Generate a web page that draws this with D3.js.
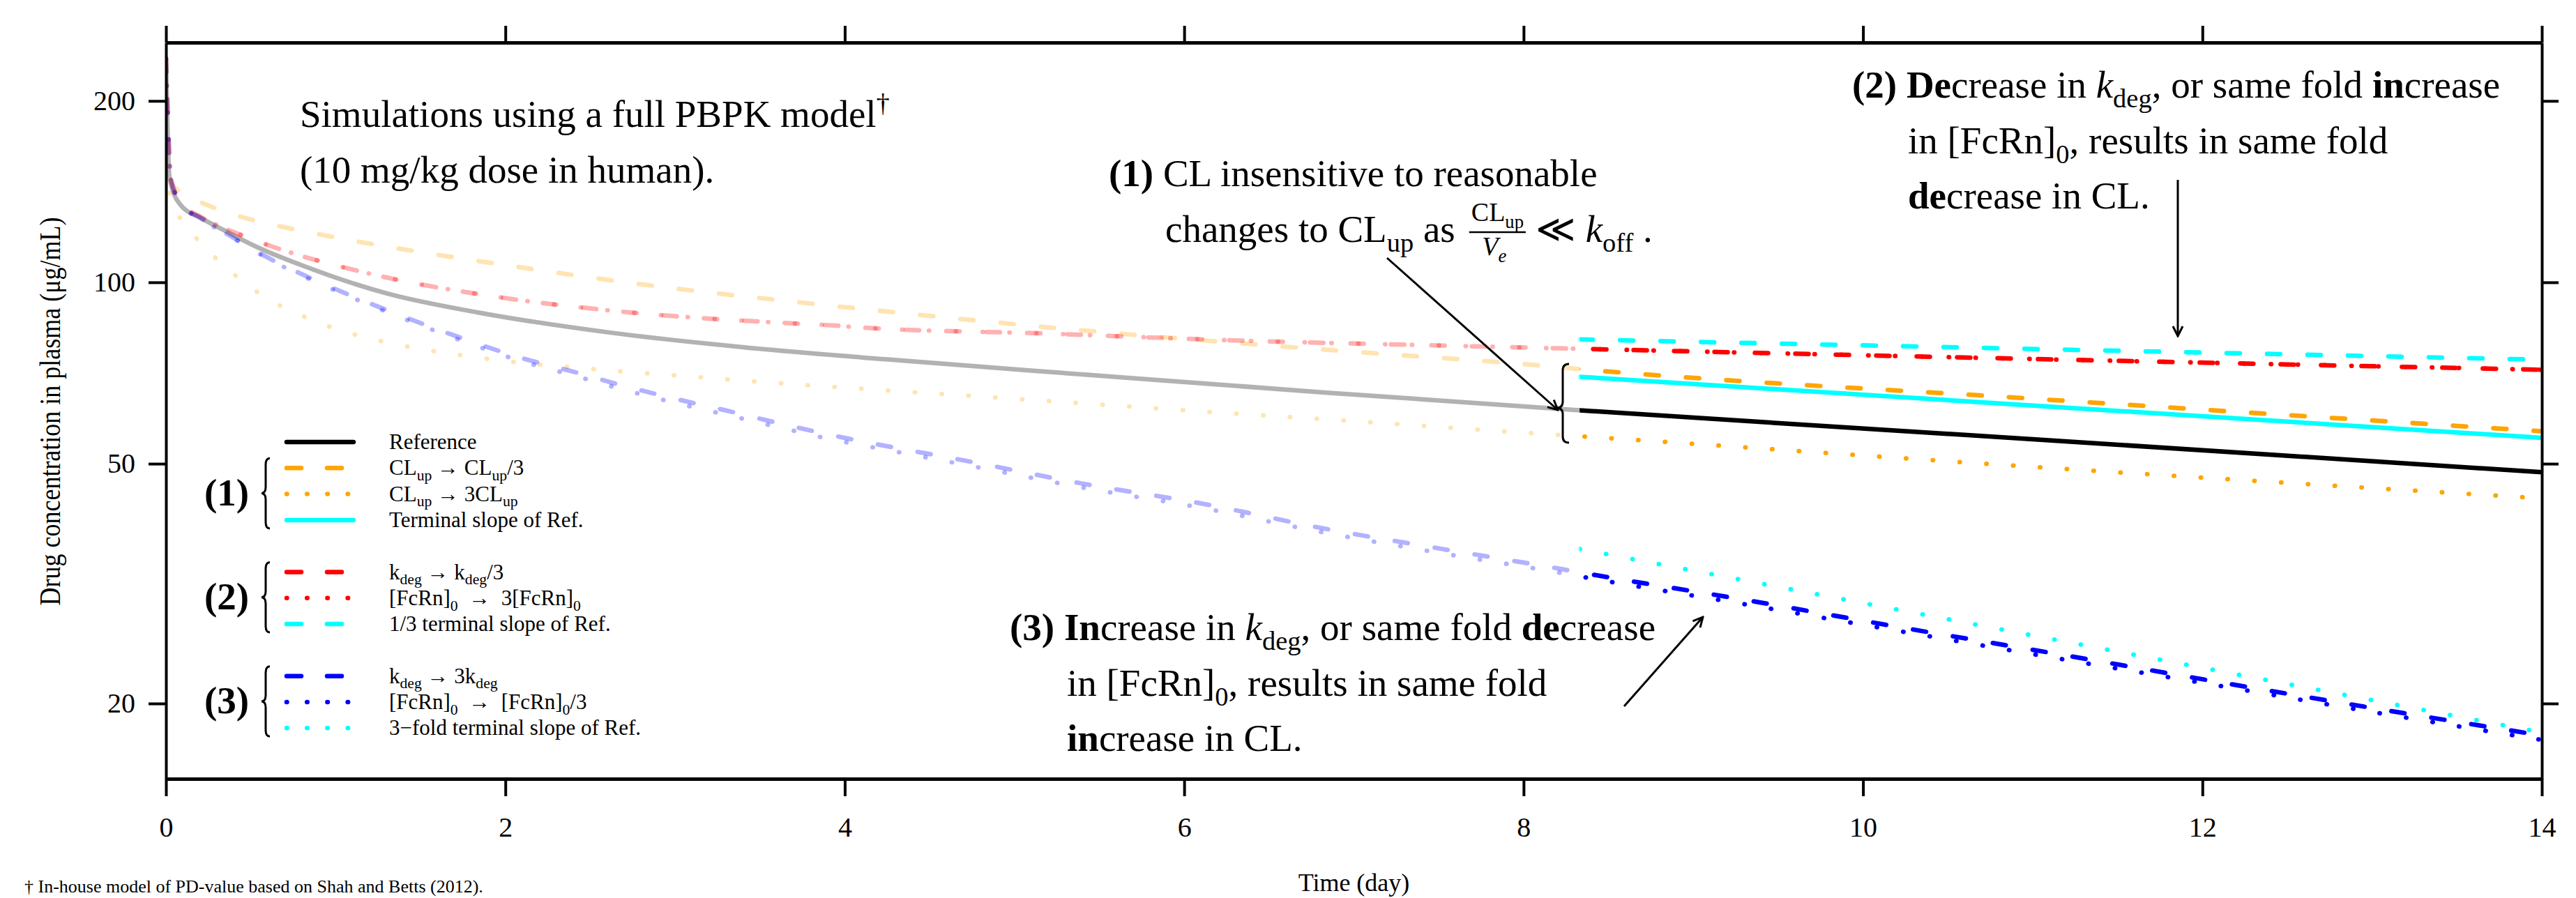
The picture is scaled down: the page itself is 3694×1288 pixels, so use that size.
<!DOCTYPE html>
<html>
<head>
<meta charset="utf-8">
<script src="https://cdn.jsdelivr.net/npm/d3@7"></script>
<style>
  body { margin: 0; background: #fff; }
  svg { display: block; }
  text { font-family: "Liberation Serif", "DejaVu Serif", serif; white-space: pre; }
</style>
</head>
<body>
<div class="chart"></div>
<script>
// ---- data (time in days, concentration in ug/mL) ----
const ticksX = [0, 2, 4, 6, 8, 10, 12, 14];
const ticksY = [20, 50, 100, 200];
const tSplit = 8.33; // pale before, full colour after

const reference = [[0,235],[0.02,150],[0.08,135],[0.21,127.7],[0.34,122.1],[0.52,115],[0.79,107],[1.31,95.7],[1.84,89.1],[2.62,82.5],[3.41,78],[4.11,75],[5.47,70.1],[6.84,65.6],[8.3,61.4],[11,54.9],[14,48.4]];
const clUpDiv3 = [[0,235],[0.03,146],[0.12,139.7],[0.27,133.4],[0.52,126.7],[0.73,122.9],[1.21,115.8],[1.68,110.2],[2.15,105.3],[2.62,100.8],[3.09,97],[3.57,93.7],[4.04,90.7],[5.2,84.2],[6.16,79.9],[7.11,76.3],[8.04,73],[8.3,71.9],[11,64.1],[14,56.6]];
const clUpTimes3 = [[0,235],[0.02,142],[0.04,135],[0.12,124.4],[0.22,114.8],[0.34,106.8],[0.46,99.9],[0.59,94.3],[0.73,89.8],[0.88,86.2],[1.03,83.2],[1.18,81],[1.49,77.6],[1.81,75.2],[2.12,73.4],[2.44,72.1],[2.75,70.9],[3.08,69.8],[3.4,68.7],[3.71,67.7],[4.02,66.8],[5.14,63.7],[6.09,61.1],[7.05,58.7],[8,56.3],[8.3,55.6],[11,49.4],[14,43.8]];
const terminalRef = [[8.33,69.7],[14,55.2]];
const kdegDiv3 = [[0,235],[0.03,148],[0.1,134],[0.2,128.7],[0.49,118.4],[0.79,110.8],[1.1,105],[1.42,100.2],[1.73,96.7],[2.04,93.8],[2.36,91.4],[2.67,89.5],[2.99,87.9],[3.3,86.7],[3.62,85.7],[3.93,84.8],[4.11,84.1],[5.2,82.2],[6.29,80.1],[7.38,78.7],[8.3,77.6],[11,74.6],[14,71.6]];
const fcrnTimes3 = [[0,235],[0.03,148],[0.1,134],[0.2,128.7],[0.49,118.4],[0.79,110.8],[1.1,105],[1.42,100.2],[1.73,96.7],[2.04,93.8],[2.36,91.4],[2.67,89.5],[2.99,87.9],[3.3,86.7],[3.62,85.7],[3.93,84.8],[4.11,84.1],[5.2,82.2],[6.29,80.1],[7.38,78.7],[8.3,77.6],[11,74.6],[14,71.6]];
const terminalThird = [[8.33,80.4],[14,74.4]];
const kdegTimes3 = [[0,235],[0.03,148],[0.1,134],[0.2,128],[0.33,121.7],[0.6,109.9],[0.89,100.5],[1.18,92.8],[1.48,86],[1.78,80.1],[2.08,75.1],[2.39,71.2],[2.7,67.3],[3.01,64],[3.32,61.1],[3.63,58.2],[3.93,55.7],[4.11,54.4],[4.74,50.4],[5.39,46.4],[6.13,42.8],[6.81,39.1],[7.52,36.1],[8.23,33.4],[8.36,32.9],[9.31,29.7],[10.24,26.7],[11.17,24.1],[12.1,21.7],[13.03,19.6],[14,17.7]];
const fcrnDiv3 = [[0,235],[0.03,148],[0.1,134],[0.2,127.5],[0.33,121.5],[0.6,109.5],[0.89,99.9],[1.18,92.2],[1.48,85.3],[1.78,79.3],[2.08,74.2],[2.39,70.2],[2.7,66.3],[3.01,63],[3.32,60.1],[3.63,57.3],[3.93,54.8],[4.11,53.6],[4.74,49.6],[5.39,45.7],[6.13,42.1],[6.81,38.5],[7.52,35.5],[8.23,32.9],[8.36,32.4],[9.31,29.2],[10.24,26.3],[11.17,23.7],[12.1,21.4],[13.03,19.3],[14,17.4]];
const terminalTriple = [[8.33,36.1],[14,17.9]];

const legendLabels = [
  ["Reference"],
  ["CL", {t: "up", sub: 1}, " \u2192 CL", {t: "up", sub: 1}, "/3"],
  ["CL", {t: "up", sub: 1}, " \u2192 3CL", {t: "up", sub: 1}],
  ["Terminal slope of Ref."],
  ["k", {t: "deg", sub: 1}, " \u2192 k", {t: "deg", sub: 1}, "/3"],
  ["[FcRn]", {t: "0", sub: 1}, "  \u2192  3[FcRn]", {t: "0", sub: 1}],
  ["1/3 terminal slope of Ref."],
  ["k", {t: "deg", sub: 1}, " \u2192 3k", {t: "deg", sub: 1}],
  ["[FcRn]", {t: "0", sub: 1}, "  \u2192  [FcRn]", {t: "0", sub: 1}, "/3"],
  ["3\u2212fold terminal slope of Ref."]
];

// ---- styles ----
const DASH = "19 39", DOT = "0.5 38";
const series = [
  {data: reference,      color: "#000000", dash: null},
  {data: clUpDiv3,       color: "#FFA500", dash: DASH},
  {data: clUpTimes3,     color: "#FFA500", dash: DOT},
  {data: terminalRef,    color: "#00FFFF", dash: null},
  {data: kdegDiv3,       color: "#FF0000", dash: DASH},
  {data: fcrnTimes3,     color: "#FF0000", dash: DOT},
  {data: terminalThird,  color: "#00FFFF", dash: DASH},
  {data: kdegTimes3,     color: "#0000FF", dash: DASH},
  {data: fcrnDiv3,       color: "#0000FF", dash: DOT},
  {data: terminalTriple, color: "#00FFFF", dash: DOT}
];
const legendRowIdx = [0, 1, 2, 3, 5, 6, 7, 9, 10, 11];

const W = 3694, H = 1288;
const svg = d3.select(".chart").append("svg").attr("width", W).attr("height", H);
svg.append("rect").attr("width", W).attr("height", H).attr("fill", "#fff");

const x = d3.scaleLinear().domain([0, 14]).range([238, 3645]);
const y = d3.scaleLog().domain([15, 250]).range([1117, 61]);
const plotTop = y.range()[1], plotBottom = y.range()[0];
const plotLeft = x.range()[0], plotRight = x.range()[1];

const defs = svg.append("defs");
defs.append("clipPath").attr("id", "pale").append("rect")
  .attr("x", plotLeft).attr("y", plotTop).attr("width", x(tSplit) - plotLeft).attr("height", plotBottom - plotTop);
defs.append("clipPath").attr("id", "full").append("rect")
  .attr("x", x(tSplit)).attr("y", plotTop).attr("width", plotRight - x(tSplit)).attr("height", plotBottom - plotTop);
defs.append("marker").attr("id", "ah")
  .attr("viewBox", "-18 -10 20 20").attr("markerWidth", 20).attr("markerHeight", 20)
  .attr("markerUnits", "userSpaceOnUse").attr("orient", "auto").attr("refX", 0).attr("refY", 0)
  .append("path").attr("d", "M-14,-7 L0,0 L-14,7")
  .attr("fill", "none").attr("stroke", "#000").attr("stroke-width", 3);

// ---- curves ----
const line = d3.line().x(d => x(d[0])).y(d => y(d[1])).curve(d3.curveMonotoneX);

["pale", "full"].forEach(part => {
  const g = svg.append("g").attr("clip-path", `url(#${part})`);
  g.selectAll("path")
    .data(series)
    .join("path")
    .attr("d", d => line(d.data))
    .attr("fill", "none")
    .attr("stroke", d => d.color)
    .attr("stroke-opacity", part === "pale" ? 0.3 : 1)
    .attr("stroke-width", 6.5)
    .attr("stroke-linecap", "round")
    .attr("stroke-dasharray", d => d.dash);
});

// ---- axes ----
function styleAxis(g, domainW) {
  g.select(".domain").attr("stroke-width", domainW);
  g.selectAll(".tick line").attr("stroke-width", 4);
  g.selectAll(".tick text").style("font-size", "40px").attr("fill", "#000")
    .style("font-family", "'Liberation Serif', serif");
}
svg.append("g").attr("transform", `translate(0,${plotBottom})`)
  .call(d3.axisBottom(x).tickValues(ticksX).tickSize(25).tickSizeOuter(0))
  .call(g => styleAxis(g, 5))
  .call(g => g.selectAll(".tick text").attr("y", 83).attr("dy", null));
svg.append("g").attr("transform", `translate(0,${plotTop})`)
  .call(d3.axisTop(x).tickValues(ticksX).tickSize(24).tickSizeOuter(0).tickFormat(""))
  .call(g => styleAxis(g, 5));
svg.append("g").attr("transform", `translate(${plotLeft},0)`)
  .call(d3.axisLeft(y).tickValues(ticksY).tickFormat(d3.format("d")).tickSize(25).tickSizeOuter(0).tickPadding(19))
  .call(g => styleAxis(g, 4));
svg.append("g").attr("transform", `translate(${plotRight},0)`)
  .call(d3.axisRight(y).tickValues(ticksY).tickFormat("").tickSize(24).tickSizeOuter(0))
  .call(g => styleAxis(g, 4));

// ---- text helpers ----
function richText(g, x0, y0, segs, size) {
  const t = g.append("text").attr("x", x0).attr("y", y0).style("font-size", size + "px");
  let shift = 0;
  segs.forEach(s => {
    const o = typeof s === "string" ? {t: s} : s;
    const sp = t.append("tspan").text(o.t);
    const target = o.sub ? size * 0.25 : (o.sup ? -size * 0.38 : 0);
    if (target !== shift) { sp.attr("dy", target - shift); shift = target; }
    if (o.sub || o.sup) sp.style("font-size", (size * 0.7) + "px");
    if (o.b) sp.style("font-weight", "bold");
    if (o.i) sp.style("font-style", "italic");
  });
  return t;
}
function brace(g, xb, y0, y1, ym, w) {
  const r = 9;
  g.append("path")
    .attr("d", `M${xb + w},${y0} Q${xb},${y0} ${xb},${y0 + r} L${xb},${ym - r} Q${xb},${ym} ${xb - w},${ym} ` +
      `Q${xb},${ym} ${xb},${ym + r} L${xb},${y1 - r} Q${xb},${y1} ${xb + w},${y1}`)
    .attr("fill", "none").attr("stroke", "#000").attr("stroke-width", 3);
}

// ---- legend ----
const leg = svg.append("g");
const rowY = i => 634 + 37.3 * legendRowIdx[i];
series.forEach((s, i) => {
  const yy = rowY(i);
  const dotted = s.dash === DOT;
  leg.append("line")
    .attr("x1", 411).attr("x2", dotted ? 500 : 507).attr("y1", yy).attr("y2", yy)
    .attr("stroke", s.color).attr("stroke-width", 6.5).attr("stroke-linecap", "round")
    .attr("stroke-dasharray", s.dash === DASH ? "21 37" : (dotted ? "0.5 28.7" : null));
  richText(leg, 558, yy + 10, legendLabels[i], 31);
});
[[1, 3, "(1)"], [4, 6, "(2)"], [7, 9, "(3)"]].forEach(([a, b, lab]) => {
  const y0 = rowY(a) - 14, y1 = rowY(b) + 12;
  brace(leg, 381, y0, y1, (y0 + y1) / 2, 6);
  leg.append("text").attr("x", 293).attr("y", (rowY(a) + rowY(b)) / 2 + 16)
    .style("font-size", "55px").style("font-weight", "bold").text(lab);
});

// ---- annotations ----
const ann = svg.append("g");
richText(ann, 430, 182, ["Simulations using a full PBPK model", {t: "\u2020", sup: 1}], 55);
richText(ann, 430, 262, ["(10 mg/kg dose in human)."], 55);

richText(ann, 1590, 267, [{t: "(1)", b: 1}, " CL insensitive to reasonable"], 55);
const l2 = richText(ann, 1671, 347, ["changes to CL", {t: "up", sub: 1}, " as"], 55);
const fx = 1671 + l2.node().getComputedTextLength() + 20;
const num = richText(ann, fx + 3, 317, ["CL", {t: "up", sub: 1}], 38);
const nw = num.node().getComputedTextLength();
ann.append("line").attr("x1", fx).attr("x2", fx + nw + 6).attr("y1", 333).attr("y2", 333)
  .attr("stroke", "#000").attr("stroke-width", 2.5);
richText(ann, fx + (nw + 6) / 2 - 22, 366, [{t: "V", i: 1}, {t: "e", i: 1, sub: 1}], 38);
richText(ann, fx + nw + 20, 347, ["\u226A ", {t: "k", i: 1}, {t: "off", sub: 1}, " ."], 55);

richText(ann, 2656, 140, [{t: "(2) ", b: 1}, {t: "De", b: 1}, "crease in ", {t: "k", i: 1}, {t: "deg", sub: 1},
  ", or same fold ", {t: "in", b: 1}, "crease"], 55);
richText(ann, 2736, 220, ["in [FcRn]", {t: "0", sub: 1}, ", results in same fold"], 55);
richText(ann, 2736, 299, [{t: "de", b: 1}, "crease in CL."], 55);

richText(ann, 1448, 918, [{t: "(3) ", b: 1}, {t: "In", b: 1}, "crease in ", {t: "k", i: 1}, {t: "deg", sub: 1},
  ", or same fold ", {t: "de", b: 1}, "crease"], 55);
richText(ann, 1530, 998, ["in [FcRn]", {t: "0", sub: 1}, ", results in same fold"], 55);
richText(ann, 1530, 1077, [{t: "in", b: 1}, "crease in CL."], 55);

[[1989, 370, 2234, 588], [3123, 258, 3123, 482], [2329, 1013, 2442, 885]].forEach(a => {
  ann.append("line").attr("x1", a[0]).attr("y1", a[1]).attr("x2", a[2]).attr("y2", a[3])
    .attr("stroke", "#000").attr("stroke-width", 3).attr("marker-end", "url(#ah)");
});
brace(ann, 2241, 522, 635, 585, 9);

// ---- axis titles and footnote ----
svg.append("text").attr("transform", "translate(86,590) rotate(-90) scale(1,1.2)")
  .attr("text-anchor", "middle").style("font-size", "36px")
  .text("Drug concentration in plasma (\u03BCg/mL)");
svg.append("text").attr("x", (plotLeft + plotRight) / 2).attr("y", 1278).attr("text-anchor", "middle")
  .style("font-size", "36px").text("Time (day)");
svg.append("text").attr("x", 35).attr("y", 1280).style("font-size", "26px")
  .text("\u2020 In-house model of PD-value based on Shah and Betts (2012).");
</script>
</body>
</html>
